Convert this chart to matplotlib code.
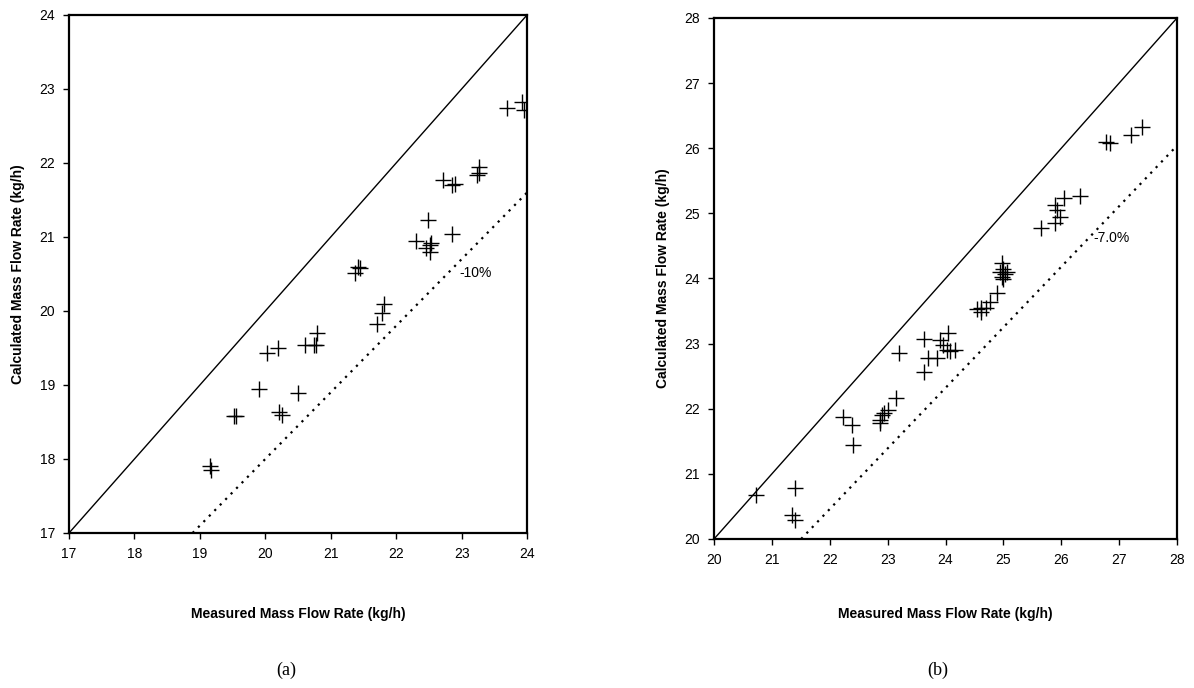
import matplotlib.pyplot as plt
from matplotlib.ticker import MultipleLocator

plt.rcParams['font.family'] = ['Liberation Sans', 'DejaVu Sans']

# panel (a)
meas_a = [19.15, 19.17, 19.52, 19.55, 19.91, 20.02, 20.20, 20.21, 20.25, 20.50, 20.61, 20.74,
          20.78, 20.79, 21.37, 21.42, 21.45, 21.70, 21.78, 21.81, 22.31, 22.46, 22.49, 22.52,
          22.53, 22.52, 22.85, 22.72, 22.85, 22.90, 23.23, 23.26, 23.26, 23.70, 23.92, 23.95]
calc_a = [17.90, 17.85, 18.58, 18.58, 18.95, 19.43, 19.50, 18.64, 18.59, 18.89, 19.54, 19.54,
          19.54, 19.70, 20.52, 20.60, 20.58, 19.83, 19.97, 20.10, 20.95, 20.85, 21.23, 20.89,
          20.92, 20.80, 21.04, 21.77, 21.70, 21.71, 21.84, 21.86, 21.95, 22.74, 22.82, 22.72]

# panel (b)
meas_b = [20.73, 21.40, 21.34, 21.40, 22.23, 22.38, 22.40, 22.87, 22.90, 22.93, 23.01, 22.87,
          23.14, 23.20, 23.63, 23.63, 23.70, 23.85, 23.90, 23.96, 24.05, 24.02, 24.08, 24.16,
          24.54, 24.62, 24.62, 24.70, 24.77, 24.89, 24.97, 25.00, 24.94, 25.02, 25.07, 25.00,
          24.97, 25.65, 25.89, 25.92, 25.97, 25.89, 26.04, 26.33, 26.78, 26.84, 27.20, 27.40]
calc_b = [20.67, 20.79, 20.37, 20.29, 21.88, 21.75, 21.44, 21.83, 21.90, 21.93, 21.98, 21.78,
          22.17, 22.85, 23.07, 22.57, 22.78, 22.78, 23.06, 22.98, 23.17, 22.90, 22.88, 22.90,
          23.53, 23.54, 23.49, 23.54, 23.64, 23.77, 24.23, 24.15, 24.10, 24.07, 24.10, 23.99,
          24.02, 24.77, 24.85, 25.05, 24.94, 25.13, 25.23, 25.26, 26.10, 26.08, 26.20, 26.33]

lim_a = (17, 24)
lim_b = (20, 28)
factor_a = 0.90
factor_b = 0.93
label_a = '-10%'
label_b = '-7.0%'
label_pos_a = (22.96, 20.51)
label_pos_b = (26.55, 24.62)

fig = plt.figure(figsize=(11.94, 6.88), dpi=100)
ax1 = fig.add_axes([0.0578, 0.2253, 0.3836, 0.7529])
ax2 = fig.add_axes([0.598, 0.2166, 0.3878, 0.7573])


def panel(ax, meas, calc, lim, factor, txt, txt_pos, xpad):
    lo, hi = lim
    ax.plot([lo, hi], [lo, hi], color='black', lw=1)
    x0 = lo / factor
    ax.plot([x0, hi], [x0 * factor, hi * factor], color='black', lw=1.6, linestyle=(0, (1, 2.5)))
    ax.plot(meas, calc, linestyle='none', marker='+', markersize=11, markeredgewidth=1,
            color='black')
    ax.text(txt_pos[0], txt_pos[1], txt, fontsize=10, va='center', ha='left')
    ax.set_xlim(lo, hi)
    ax.set_ylim(lo, hi)
    ax.xaxis.set_major_locator(MultipleLocator(1))
    ax.yaxis.set_major_locator(MultipleLocator(1))
    for s in ax.spines.values():
        s.set_linewidth(1.6)
    ax.tick_params(direction='out', length=4, width=1, labelsize=10, pad=6)
    ax.set_xlabel('Measured Mass Flow Rate (kg/h)', fontsize=10, fontweight='bold', labelpad=xpad)
    ax.set_ylabel('Calculated Mass Flow Rate (kg/h)', fontsize=10, fontweight='bold', labelpad=10)


panel(ax1, meas_a, calc_a, lim_a, factor_a, label_a, label_pos_a, 33)
panel(ax2, meas_b, calc_b, lim_b, factor_b, label_b, label_pos_b, 29)

fig.text(0.24, 0.026, '(a)', fontsize=13, family='Liberation Serif', ha='center', va='center')
fig.text(0.785, 0.026, '(b)', fontsize=13, family='Liberation Serif', ha='center', va='center')

fig.savefig('out.png', dpi=100)
